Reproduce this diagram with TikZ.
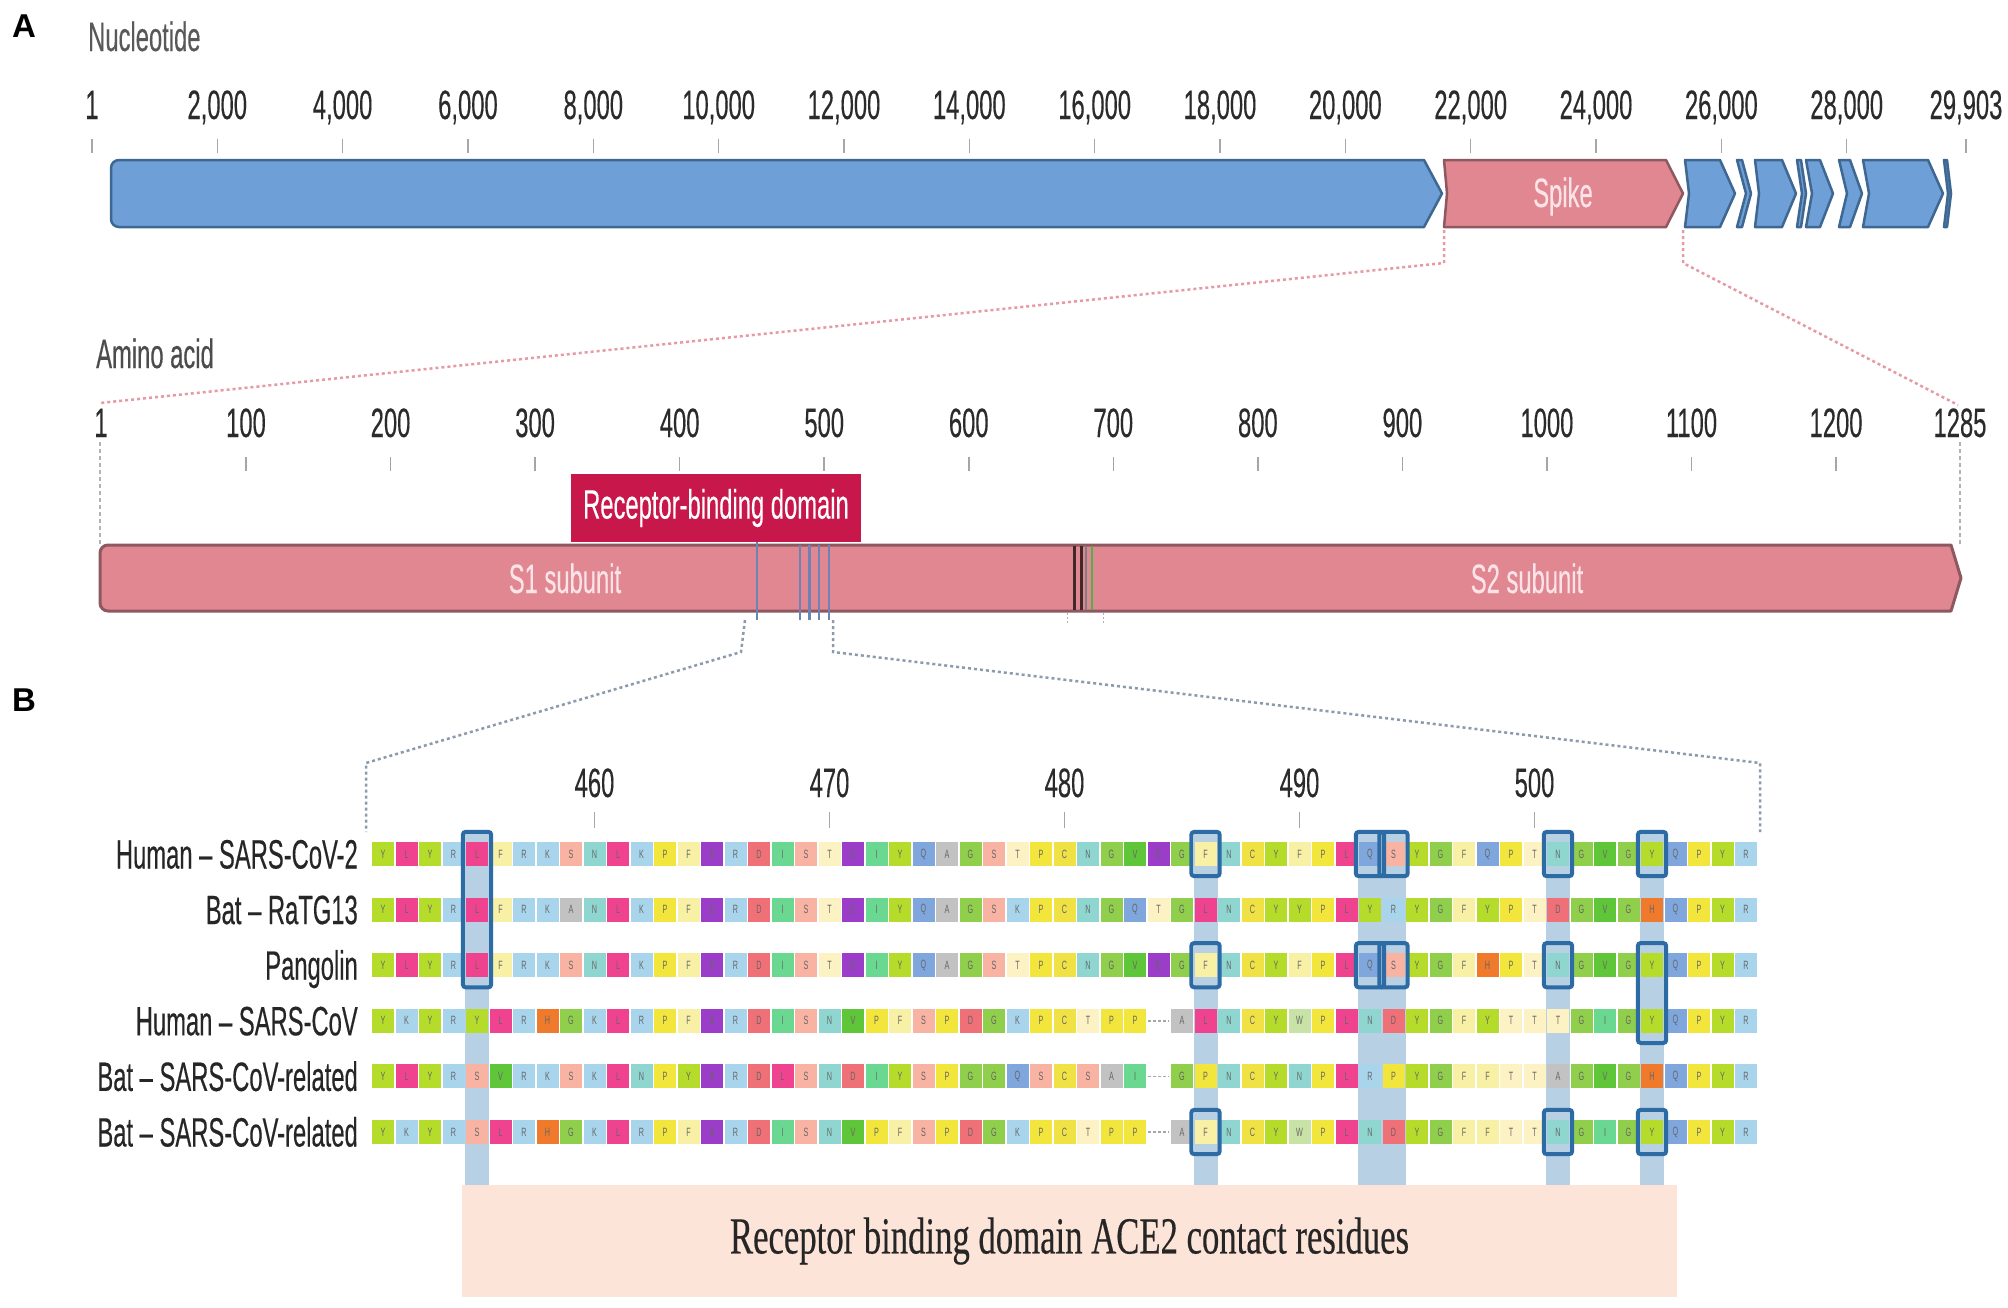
\documentclass[tikz,border=0pt]{standalone}
\usepackage{fontspec}
\setmainfont{Liberation Sans}
\newfontfamily\nar[FakeStretch=0.58,FakeBold=0.3]{Liberation Sans}
\newfontfamily\narthin[FakeStretch=0.6]{Liberation Sans}
\newfontfamily\sernar[FakeStretch=0.667,FakeBold=0.3]{Liberation Serif}
\usetikzlibrary{fit}
\definecolor{geneblue}{HTML}{6E9FD6}
\definecolor{geneblueline}{HTML}{3E6791}
\definecolor{spikepink}{HTML}{E08791}
\definecolor{spikeline}{HTML}{8E5860}
\definecolor{spiketext}{HTML}{FCE3E8}
\definecolor{rbdred}{HTML}{C8174A}
\definecolor{bandblue}{HTML}{B8D0E4}
\definecolor{boxblue}{HTML}{2C6BA4}
\definecolor{peach}{HTML}{FCE4D8}
\definecolor{dotpink}{HTML}{E59AA5}
\definecolor{dotgray}{HTML}{8C9AAE}
\definecolor{txt}{HTML}{2B2B2B}
\definecolor{contact}{HTML}{6D82B5}
% residue colours
\definecolor{aaY}{HTML}{B5DC2A}
\definecolor{aaL}{HTML}{F0438F}
\definecolor{aaR}{HTML}{A9D5EC}
\definecolor{aaK}{HTML}{A9D5EC}
\definecolor{aaF}{HTML}{F7F0A5}
\definecolor{aaS}{HTML}{F8B3A3}
\definecolor{aaN}{HTML}{8FD6D0}
\definecolor{aaP}{HTML}{F2E63C}
\definecolor{aaE}{HTML}{9B3DC9}
\definecolor{aaD}{HTML}{F07078}
\definecolor{aaI}{HTML}{6AD890}
\definecolor{aaT}{HTML}{FDF2C4}
\definecolor{aaQ}{HTML}{7FA7DD}
\definecolor{aaA}{HTML}{C2C2C2}
\definecolor{aaG}{HTML}{8FCF4B}
\definecolor{aaC}{HTML}{F0E245}
\definecolor{aaV}{HTML}{5FC63A}
\definecolor{aaH}{HTML}{F07A2B}
\definecolor{aaW}{HTML}{C9E3A6}
\definecolor{aax}{HTML}{FFFFFF}
\def\gapchar{x}
\newcommand\genearrow[5]{\filldraw[#5] (#1,160) -- ({#2-#3},160) -- (#2,193.5) -- ({#2-#3},227) -- (#1,227) -- ({#1+#4},193.5) -- cycle;}
\begin{document}
\begin{tikzpicture}[x=1pt,y=-1pt,
  lbl/.style={inner sep=0pt, font=\nar\fontsize{41}{41}\selectfont, text=txt},
  tickmark/.style={draw=gray!70, line width=1.5pt},
  cell/.style={rectangle, inner sep=0pt, minimum width=22pt, minimum height=24pt, font=\narthin\fontsize{12}{12}\selectfont, text=black!60},
  cbox/.style={draw=boxblue, line width=4pt, rounded corners=3pt, inner xsep=3pt, inner ysep=10pt},
  pinkdots/.style={draw=dotpink, line width=2.5pt, dash pattern=on 3pt off 3pt},
  graydots/.style={draw=dotgray, line width=2.5pt, dash pattern=on 3pt off 3pt},
  blueg/.style={fill=geneblue, draw=geneblueline, line width=2.5pt, line join=round},
  spikeg/.style={fill=spikepink, draw=spikeline, line width=2.5pt, line join=round}]
\useasboundingbox (0,0) rectangle (2008,1307);
\fill[white] (0,0) rectangle (2008,1307);

% ---------- panel letters ----------
\node[inner sep=0pt, anchor=base west, font=\bfseries\fontsize{33}{33}\selectfont] (labA) at (12,37) {A};
\node[inner sep=0pt, anchor=base west, font=\bfseries\fontsize{33}{33}\selectfont] (labB) at (12,711) {B};

% ---------- nucleotide axis ----------
\node[lbl, anchor=base west, text=black!65] (nuc) at (88,51) {Nucleotide};
\node[lbl, anchor=base] (n1) at (92,119) {1};
\draw[tickmark] (92,139) -- (92,153);
\foreach \v in {2,4,...,28} {
  \pgfmathsetmacro\xx{92+\v*62.67-0.063}
  \node[lbl, anchor=base] (n\v) at (\xx,119) {\v,000};
  \draw[tickmark] (\xx,139) -- (\xx,153);
}
\node[lbl, anchor=base] (nend) at (1966,119) {29,903};
\draw[tickmark] (1966,139) -- (1966,153);

% ---------- genome genes ----------
\filldraw[blueg] (119,160) -- (1424,160) -- (1442,193.5) -- (1424,227) -- (119,227)
  arc[start angle=90,end angle=180,radius=8] -- (111,168)
  arc[start angle=180,end angle=270,radius=8] -- cycle;
\genearrow{1444}{1683}{17}{3}{spikeg}
\genearrow{1685}{1735}{15}{4}{blueg}
\genearrow{1737}{1751}{9}{9}{blueg}
\genearrow{1755}{1796}{14}{4}{blueg}
\genearrow{1797}{1806}{5}{5}{blueg}
\genearrow{1806}{1833}{13}{6}{blueg}
\genearrow{1839}{1862}{12}{8}{blueg}
\genearrow{1863}{1943}{15}{6}{blueg}
\genearrow{1944}{1951}{4}{4}{blueg}
\node[lbl, anchor=base, text=spiketext] (spiketxt) at (1563,207) {Spike};

% ---------- zoom lines genome -> protein ----------
\coordinate (spBL) at (1444,230);
\coordinate (spBR) at (1683,230);
\coordinate (spK1) at (1444,263);
\coordinate (spK2) at (1683,263);
\coordinate (aaL) at (100,403);
\coordinate (aaR) at (1958,405);
\draw[pinkdots] (spBL) -- (spK1) -- (aaL);
\draw[pinkdots] (spBR) -- (spK2) -- (aaR);

% ---------- amino-acid axis ----------
\node[lbl, anchor=base west, text=black!70] (aminolbl) at (96,368) {Amino acid};
\node[lbl, anchor=base] (a1) at (101,437) {1};
\draw[gray!60, line width=1.5pt, dash pattern=on 4pt off 3pt] (100,442) -- (100,545);
\foreach \v in {100,200,...,1200} {
  \pgfmathsetmacro\xx{246+(\v-100)*1.4455}
  \node[lbl, anchor=base] (a\v) at (\xx,437) {\v};
  \draw[tickmark] (\xx,457) -- (\xx,471);
}
\node[lbl, anchor=base] (aend) at (1960,437) {1285};
\draw[gray!60, line width=1.5pt, dash pattern=on 4pt off 3pt] (1960,442) -- (1960,545);

% ---------- spike protein bar ----------
\node[fill=rbdred, minimum width=290pt, minimum height=68pt, inner sep=0pt,
      font=\nar\fontsize{41}{41}\selectfont, text=white] (rbd) at (716,508) {Receptor-binding domain};
\filldraw[fill=spikepink, draw=spikeline, line width=3pt, line join=round]
  (108,545) -- (1951,545) -- (1961,578) -- (1951,611) -- (108,611)
  arc[start angle=90,end angle=180,radius=8] -- (100,553)
  arc[start angle=180,end angle=270,radius=8] -- cycle;
\node[lbl, anchor=base, text=spiketext] (s1) at (565,593) {S1 subunit};
\node[lbl, anchor=base, text=spiketext] (s2) at (1527,593) {S2 subunit};
\draw[line width=3pt, color=black!55!spikeline] (1074,546) -- (1074,610);
\draw[line width=3pt, color=black!55!spikeline] (1081,546) -- (1081,610);
\draw[line width=2pt, color=gray] (1086,546) -- (1086,610);
\draw[line width=2pt, color=green!40!gray] (1092,546) -- (1092,610);
\draw[gray!60, line width=1pt, dash pattern=on 2pt off 2pt] (1067,613) -- (1067,624);
\draw[gray!60, line width=1pt, dash pattern=on 2pt off 2pt] (1103,613) -- (1103,624);
\draw[contact, line width=2.5pt] (757,542) -- (757,620);
\foreach \xx in {800,809.5,819,829} { \draw[contact, line width=2.5pt] (\xx,545) -- (\xx,620); }

% ---------- zoom lines protein -> alignment ----------
\coordinate (bL0) at (745,620);
\coordinate (bL1) at (741,652);
\coordinate (bL2) at (366,763);
\coordinate (bL3) at (366,832);
\coordinate (bR0) at (833,620);
\coordinate (bR1) at (833,652);
\coordinate (bR2) at (1760,763);
\coordinate (bR3) at (1760,832);
\draw[graydots] (bL0) -- (bL1) -- (bL2) -- (bL3);
\draw[graydots] (bR0) -- (bR1) -- (bR2) -- (bR3);

% ---------- residue numbers ----------
\foreach \v in {460,470,480,490,500} {
  \pgfmathsetmacro\xx{383+(\v-451)*23.5}
  \node[lbl, anchor=base] (b\v) at (\xx,797) {\v};
  \draw[tickmark] (\xx,812) -- (\xx,828);
}

% ---------- contact highlight bands ----------
\foreach \c in {5,36,51,55} {
  \pgfmathsetmacro\xx{383+(\c-1)*23.5}
  \fill[bandblue] ({\xx-12},834) rectangle ({\xx+12},1186);
}
\fill[bandblue] ({383+42*23.5-12},834) rectangle ({383+43*23.5+12},1186);

% ---------- alignment ----------
\foreach \lab [count=\r] in {Human – SARS-CoV-2, Bat – RaTG13, Pangolin, Human – SARS-CoV, Bat – SARS-CoV-related, Bat – SARS-CoV-related} {
  \node[lbl, anchor=base east, text=black!85] (lab\r) at (358,{854+(\r-1)*55.6+14.5}) {\lab};
}
\foreach \seq [count=\r] in {
 {Y,L,Y,R,L,F,R,K,S,N,L,K,P,F,E,R,D,I,S,T,E,I,Y,Q,A,G,S,T,P,C,N,G,V,E,G,F,N,C,Y,F,P,L,Q,S,Y,G,F,Q,P,T,N,G,V,G,Y,Q,P,Y,R},
 {Y,L,Y,R,L,F,R,K,A,N,L,K,P,F,E,R,D,I,S,T,E,I,Y,Q,A,G,S,K,P,C,N,G,Q,T,G,L,N,C,Y,Y,P,L,Y,R,Y,G,F,Y,P,T,D,G,V,G,H,Q,P,Y,R},
 {Y,L,Y,R,L,F,R,K,S,N,L,K,P,F,E,R,D,I,S,T,E,I,Y,Q,A,G,S,T,P,C,N,G,V,E,G,F,N,C,Y,F,P,L,Q,S,Y,G,F,H,P,T,N,G,V,G,Y,Q,P,Y,R},
 {Y,K,Y,R,Y,L,R,H,G,K,L,R,P,F,E,R,D,I,S,N,V,P,F,S,P,D,G,K,P,C,T,P,P,x,A,L,N,C,Y,W,P,L,N,D,Y,G,F,Y,T,T,T,G,I,G,Y,Q,P,Y,R},
 {Y,L,Y,R,S,V,R,K,S,K,L,N,P,Y,E,R,D,L,S,N,D,I,Y,S,P,G,G,Q,S,C,S,A,I,x,G,P,N,C,Y,N,P,L,R,P,Y,G,F,F,T,T,A,G,V,G,H,Q,P,Y,R},
 {Y,K,Y,R,S,L,R,H,G,K,L,R,P,F,E,R,D,I,S,N,V,P,F,S,P,D,G,K,P,C,T,P,P,x,A,F,N,C,Y,W,P,L,N,D,Y,G,F,F,T,T,N,G,I,G,Y,Q,P,Y,R}} {
  \foreach \a [count=\c] in \seq {
    \node[cell, fill=aa\a] (r\r c\c) at ({383+(\c-1)*23.5},{854+(\r-1)*55.6}) {\ifx\a\gapchar\else\a\fi};
  }
}
\foreach \r in {4,5,6} {
  \draw[gray!70, line width=1.5pt, dash pattern=on 3pt off 2pt] ([xshift=1pt]r\r c34.west) -- ([xshift=-1pt]r\r c34.east);
}

% ---------- contact residue boxes ----------
\node[cbox, fit=(r1c5)(r3c5)] (bx1) {};
\node[cbox, fit=(r1c36)] (bx2) {};
\node[cbox, fit=(r3c36)] (bx3) {};
\node[cbox, fit=(r6c36)] (bx4) {};
\node[cbox, fit=(r1c43)] (bx5) {};
\node[cbox, fit=(r1c44)] (bx6) {};
\node[cbox, fit=(r3c43)] (bx7) {};
\node[cbox, fit=(r3c44)] (bx8) {};
\node[cbox, fit=(r1c51)] (bx9) {};
\node[cbox, fit=(r3c51)] (bx10) {};
\node[cbox, fit=(r6c51)] (bx11) {};
\node[cbox, fit=(r1c55)] (bx12) {};
\node[cbox, fit=(r3c55)(r4c55)] (bx13) {};
\node[cbox, fit=(r6c55)] (bx14) {};

% ---------- ACE2 contact box ----------
\node[fill=peach, minimum width=1215pt, minimum height=112pt, inner sep=0pt,
      font=\sernar\fontsize{52}{52}\selectfont, text=black!85] (ace2) at (1069.5,1241)
      {Receptor binding domain ACE2 contact residues};
\end{tikzpicture}
\end{document}
